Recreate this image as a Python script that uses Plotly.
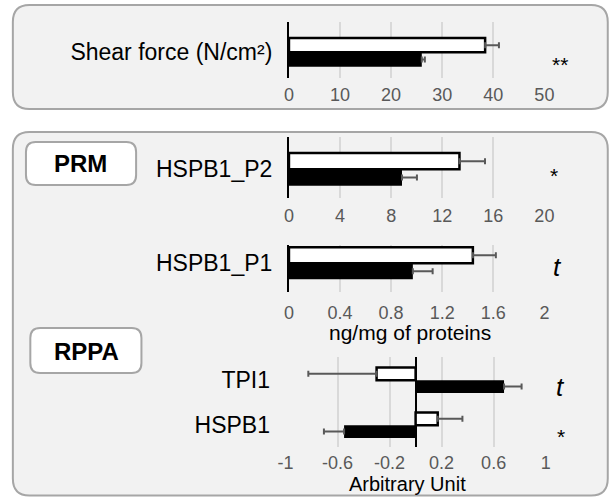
import plotly.graph_objects as go

W, H = 610, 497

# ---------------- data ----------------
shear_cats = ["Shear force (N/cm²)"]
shear_white = [38.4]
shear_white_err = [2.7]
shear_black = [26.0]
shear_black_err = [0.6]

p2_cats = ["HSPB1_P2"]
p2_white = [13.35]
p2_white_err = [2.0]
p2_black = [8.85]
p2_black_err = [1.17]

p1_cats = ["HSPB1_P1"]
p1_white = [1.44]
p1_white_err = [0.18]
p1_black = [0.97]
p1_black_err = [0.155]

rppa_cats = ["TPI1", "HSPB1"]
rppa_white = [-0.30, 0.17]
rppa_white_err = [0.525, 0.19]
rppa_black = [0.68, -0.55]
rppa_black_err = [0.135, 0.155]

shear_ticks = [0, 10, 20, 30, 40, 50]
p2_ticks = [0, 4, 8, 12, 16, 20]
p1_ticks = [0, 0.4, 0.8, 1.2, 1.6, 2]
p1_ticklabels = ["0", "0.4", "0.8", "1.2", "1.6", "2"]
rppa_ticks = [-1, -0.6, -0.2, 0.2, 0.6, 1]
rppa_ticklabels = ["-1", "-0.6", "-0.2", "0.2", "0.6", "1"]

# significance marks: (y axis, category, text, italic?)
significance = [
    ("y", "Shear force (N/cm²)", "**", False),
    ("y2", "HSPB1_P2", "*", False),
    ("y3", "HSPB1_P1", "t", True),
    ("y4", "TPI1", "t", True),
    ("y4", "HSPB1", "*", False),
]

FONT = "Liberation Sans, Arial, sans-serif"
GRID = "#d9d9d9"
TICKC = "#595959"
ERRC = "#595959"
BORDER = "#a6a6a6"


def px_x(x):
    return x / W


def px_y(y):
    return 1 - y / H


def errs(vals, e):
    plus = [ee if v >= 0 else 0 for v, ee in zip(vals, e)]
    minus = [ee if v < 0 else 0 for v, ee in zip(vals, e)]
    return plus, minus


fig = go.Figure()

panels = [
    ("x", "y", shear_cats, shear_white, shear_white_err, shear_black, shear_black_err),
    ("x2", "y2", p2_cats, p2_white, p2_white_err, p2_black, p2_black_err),
    ("x3", "y3", p1_cats, p1_white, p1_white_err, p1_black, p1_black_err),
    ("x4", "y4", rppa_cats, rppa_white, rppa_white_err, rppa_black, rppa_black_err),
]

for xa, ya, cats, wv, we, bv, be in panels:
    wp, wm = errs(wv, we)
    bp, bm = errs(bv, be)
    fig.add_trace(go.Bar(
        x=wv, y=cats, orientation="h", xaxis=xa, yaxis=ya,
        marker=dict(color="white", line=dict(color="black", width=2.5)),
        error_x=dict(type="data", symmetric=False, array=wp, arrayminus=wm,
                     color=ERRC, thickness=2, width=3),
        showlegend=False, hoverinfo="skip",
    ))
    fig.add_trace(go.Bar(
        x=bv, y=cats, orientation="h", xaxis=xa, yaxis=ya,
        marker=dict(color="black", line=dict(color="black", width=0)),
        error_x=dict(type="data", symmetric=False, array=bp, arrayminus=bm,
                     color=ERRC, thickness=2, width=3),
        showlegend=False, hoverinfo="skip",
    ))


def xaxis_cfg(dom, rng, tickvals, ticktext=None, ticklen=1, zeroline=False):
    d = dict(
        domain=[px_x(dom[0]), px_x(dom[1])], range=rng,
        tickmode="array", tickvals=tickvals,
        showgrid=True, gridcolor=GRID, gridwidth=2,
        zeroline=zeroline, zerolinecolor="black", zerolinewidth=2,
        showline=False, ticks="outside", ticklen=ticklen,
        tickcolor="rgba(0,0,0,0)",
        tickfont=dict(family=FONT, size=18, color=TICKC),
        fixedrange=True,
    )
    if ticktext is not None:
        d["ticktext"] = ticktext
    return d


def yaxis_cfg(dom_px, rng, cats, showline=True):
    return dict(
        domain=[px_y(dom_px[1]), px_y(dom_px[0])], range=rng,
        type="category", categoryorder="array", categoryarray=cats,
        showgrid=False, zeroline=False,
        showline=showline, linecolor="black", linewidth=2,
        ticks="outside", ticklen=10, tickcolor="rgba(0,0,0,0)",
        tickfont=dict(family=FONT, size=23, color="black"),
        fixedrange=True,
    )


fig.update_layout(
    width=W, height=H, autosize=False,
    margin=dict(l=0, r=0, t=0, b=0),
    paper_bgcolor="white", plot_bgcolor="rgba(0,0,0,0)",
    barmode="group", bargap=0.43, bargroupgap=0,
    font=dict(family=FONT),
    xaxis=xaxis_cfg((289.5, 552.7), [0, 50], shear_ticks, ticklen=1),
    yaxis=yaxis_cfg((22.3, 77.7), [0.503, -0.597], shear_cats),
    xaxis2=xaxis_cfg((289.5, 552.7), [0, 20], p2_ticks, ticklen=1),
    yaxis2=yaxis_cfg((136.7, 198.3), [0.504, -0.569], p2_cats),
    xaxis3=xaxis_cfg((289.5, 552.7), [0, 2], p1_ticks, p1_ticklabels, ticklen=4),
    yaxis3=yaxis_cfg((245, 292.3), [0.516, -0.326], p1_cats),
    xaxis4=xaxis_cfg((286, 554), [-1, 1], rppa_ticks, rppa_ticklabels, ticklen=0, zeroline=True),
    yaxis4=yaxis_cfg((357, 446.7), [1.478, -0.516], rppa_cats, showline=False),
)
fig.update_layout(
    xaxis=dict(anchor="y"), yaxis=dict(anchor="x"),
    xaxis2=dict(anchor="y2"), yaxis2=dict(anchor="x2"),
    xaxis3=dict(anchor="y3"), yaxis3=dict(anchor="x3"),
    xaxis4=dict(anchor="y4"), yaxis4=dict(anchor="x4"),
)


def rrect(x0, y0, x1, y1, r):
    X = px_x
    Y = px_y
    p = (f"M {X(x0 + r)},{Y(y0)} L {X(x1 - r)},{Y(y0)} "
         f"Q {X(x1)},{Y(y0)} {X(x1)},{Y(y0 + r)} L {X(x1)},{Y(y1 - r)} "
         f"Q {X(x1)},{Y(y1)} {X(x1 - r)},{Y(y1)} L {X(x0 + r)},{Y(y1)} "
         f"Q {X(x0)},{Y(y1)} {X(x0)},{Y(y1 - r)} L {X(x0)},{Y(y0 + r)} "
         f"Q {X(x0)},{Y(y0)} {X(x0 + r)},{Y(y0)} Z")
    return p


shapes = [
    dict(type="path", path=rrect(5, 5, 618, 109, 17), xref="paper", yref="paper",
         fillcolor="#f2f2f2", line=dict(color=BORDER, width=2), layer="below"),
    dict(type="path", path=rrect(5, 132, 618, 495.5, 17), xref="paper", yref="paper",
         fillcolor="#f2f2f2", line=dict(color=BORDER, width=2), layer="below"),
    dict(type="path", path=rrect(18.5, 142, 132, 185, 10), xref="paper", yref="paper",
         fillcolor="white", line=dict(color=BORDER, width=2), layer="below"),
    dict(type="path", path=rrect(23, 328, 137.5, 373, 10), xref="paper", yref="paper",
         fillcolor="white", line=dict(color=BORDER, width=2), layer="below"),
]
fig.update_layout(shapes=shapes)

annotations = [
    dict(text="<b>PRM</b>", x=px_x(75), y=px_y(164)),
    dict(text="<b>RPPA</b>", x=px_x(80.5), y=px_y(351)),
    dict(text="ng/mg of proteins", x=px_x(414.5), y=px_y(332.5)),
    dict(text="Arbitrary Unit", x=px_x(411.5), y=px_y(484)),
]
for a, sz in zip(annotations, [24, 24, 21, 20]):
    a.update(xref="paper", yref="paper", xanchor="center", yanchor="middle",
             showarrow=False, font=dict(family=FONT, size=sz, color="black"))

sig_x = [569, 563, 566, 569.5, 570]
sig_shift = [-12.5, -6.5, -4, -7, -11.5]
for (ya, cat, txt, ital), sx, sh in zip(significance, sig_x, sig_shift):
    annotations.append(dict(
        text=(f"<i>{txt}</i>" if ital else txt),
        x=px_x(sx), xref="paper", y=cat, yref=ya, yshift=sh,
        xanchor="center", yanchor="middle",
        showarrow=False,
        font=dict(family=FONT, size=(26 if ital else 21), color="black"),
    ))

fig.update_layout(annotations=annotations)

fig.write_html(
    "out.html",
    config={"responsive": False, "displayModeBar": False},
    post_script="document.body.style.margin='0';document.documentElement.style.overflow='hidden';",
)
